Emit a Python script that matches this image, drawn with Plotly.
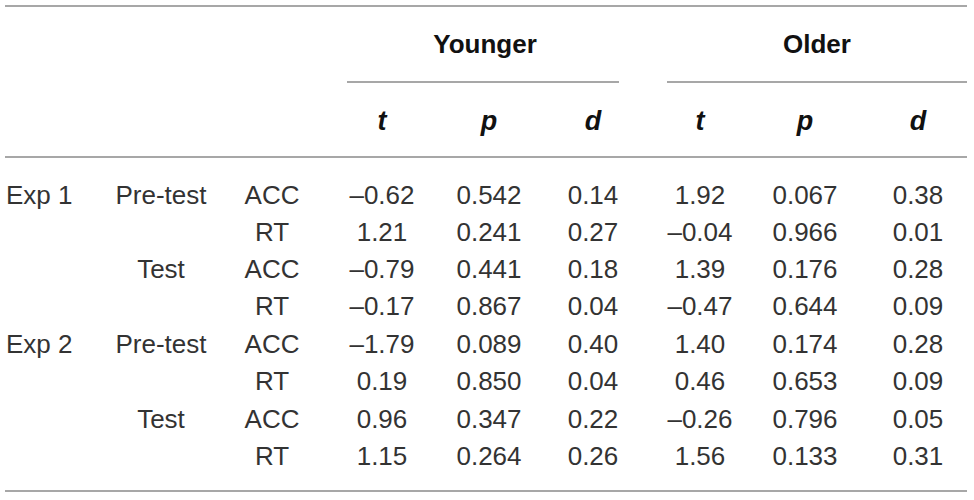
import plotly.graph_objects as go

# --- table content ---
groups = ["Younger", "Older"]
stats = ["t", "p", "d"]

experiments = ["Exp 1", "", "", "", "Exp 2", "", "", ""]
phases = ["Pre-test", "", "Test", "", "Pre-test", "", "Test", ""]
measures = ["ACC", "RT", "ACC", "RT", "ACC", "RT", "ACC", "RT"]

young_t = ["–0.62", "1.21", "–0.79", "–0.17", "–1.79", "0.19", "0.96", "1.15"]
young_p = ["0.542", "0.241", "0.441", "0.867", "0.089", "0.850", "0.347", "0.264"]
young_d = ["0.14", "0.27", "0.18", "0.04", "0.40", "0.04", "0.22", "0.26"]
older_t = ["1.92", "–0.04", "1.39", "–0.47", "1.40", "0.46", "–0.26", "1.56"]
older_p = ["0.067", "0.966", "0.176", "0.644", "0.174", "0.653", "0.796", "0.133"]
older_d = ["0.38", "0.01", "0.28", "0.09", "0.28", "0.09", "0.05", "0.31"]

# --- layout in page pixels ---
W, H = 974, 500
row_y = [197, 234, 271, 308, 346, 383, 421, 458]
col_x = {"exp": 6, "phase": 161, "meas": 272}
stat_x = [382, 489, 593, 700, 805, 918]
group_x = [485, 817]
group_y = 46
stat_y = 123
txt = "#333333"
rule = "#8a8a8a"
fnt = "Liberation Sans"

fig = go.Figure()

def add_col(x, labels, pos="middle center"):
    fig.add_trace(go.Scatter(
        x=[x] * len(labels), y=row_y, mode="text", text=labels,
        textposition=pos, textfont=dict(family=fnt, size=26, color=txt),
        cliponaxis=False, hoverinfo="skip", showlegend=False))

add_col(col_x["exp"], experiments, pos="middle right")
add_col(col_x["phase"], phases)
add_col(col_x["meas"], measures)
for x, vals in zip(stat_x, [young_t, young_p, young_d, older_t, older_p, older_d]):
    add_col(x, vals)

# header: group names and statistic labels
fig.add_trace(go.Scatter(
    x=group_x, y=[group_y] * len(groups), mode="text",
    text=["<b>%s</b>" % g for g in groups],
    textfont=dict(family=fnt, size=26, color="#111"),
    cliponaxis=False, hoverinfo="skip", showlegend=False))
fig.add_trace(go.Scatter(
    x=stat_x, y=[stat_y] * len(stat_x), mode="text",
    text=["<b><i>%s</i></b>" % s for s in stats * 2],
    textfont=dict(family=fnt, size=27, color="#111"),
    cliponaxis=False, hoverinfo="skip", showlegend=False))

# horizontal rules
for x0, x1, y in [(5, 967, 6), (347, 619, 82), (667, 967, 82),
                  (5, 967, 157), (5, 967, 491)]:
    fig.add_shape(type="line", x0=x0, x1=x1, y0=y, y1=y,
                  xref="x", yref="y", line=dict(color=rule, width=1.5))

fig.update_xaxes(range=[0, W], visible=False, fixedrange=True)
fig.update_yaxes(range=[H, 0], visible=False, fixedrange=True)
fig.update_layout(width=W, height=H, margin=dict(l=0, r=0, t=0, b=0),
                  paper_bgcolor="white", plot_bgcolor="white",
                  hovermode=False)

# drop the default body margin so the figure fills the window
fig.write_html("out.html", config={"displayModeBar": False},
               post_script="document.body.style.margin='0px';"
                           "document.body.style.overflow='hidden';")
